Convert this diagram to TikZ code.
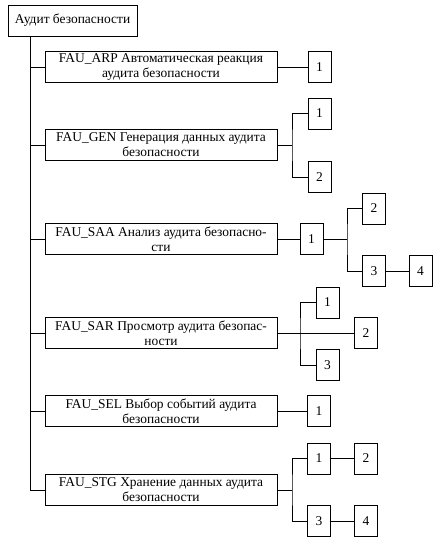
\documentclass[tikz,border=0pt]{standalone}
\usepackage{fontspec}
\setmainfont{Liberation Serif}
\begin{document}
\begin{tikzpicture}[x=1bp,y=-1bp,
  every node/.style={font=\fontsize{13.5}{15}\selectfont, inner sep=0pt, outer sep=0pt},
  rootbox/.style={draw, line width=0.8bp, minimum width=129bp, minimum height=31bp},
  mainbox/.style={draw, line width=0.8bp, minimum width=232bp, minimum height=31bp, align=center},
  numbox/.style={draw, line width=0.8bp, minimum width=23bp, minimum height=31bp},
  conn/.style={line width=0.8bp}]
\useasboundingbox (0,0) rectangle (442,545);
\node[rootbox] (root) at (72.5,20.5) {Аудит безопасности};
\node[mainbox] (arp) at (161,67) {FAU\_ARP Автоматическая реакция\\аудита безопасности};
\node[mainbox] (gen) at (161,145) {FAU\_GEN Генерация данных аудита\\безопасности};
\node[mainbox] (saa) at (161,239) {FAU\_SAA Анализ аудита безопасно-\\сти};
\node[mainbox] (sar) at (161,333) {FAU\_SAR Просмотр аудита безопас-\\ности};
\node[mainbox] (sel) at (161,411) {FAU\_SEL Выбор событий аудита\\безопасности};
\node[mainbox] (stg) at (161,490) {FAU\_STG Хранение данных аудита\\безопасности};
% numbered boxes
\node[numbox] (arp1) at (319.5,67) {1};
\node[numbox] (gen1) at (319.5,113.5) {1};
\node[numbox] (gen2) at (319.5,177) {2};
\node[numbox] (saa1) at (311.5,239) {1};
\node[numbox] (saa2) at (374,208.5) {2};
\node[numbox] (saa3) at (374,271) {3};
\node[numbox] (saa4) at (420.5,271) {4};
\node[numbox] (sar1) at (327.5,302.5) {1};
\node[numbox] (sar2) at (366,333) {2};
\node[numbox] (sar3) at (327.5,365) {3};
\node[numbox] (sel1) at (319,411) {1};
\node[numbox] (stg1) at (319,458.5) {1};
\node[numbox] (stg2) at (366,458.5) {2};
\node[numbox] (stg3) at (319,521) {3};
\node[numbox] (stg4) at (366,521) {4};
% trunk
\coordinate (t) at (30,0);
\draw[conn] (root.south -| t) -- (stg.west -| t) -- (stg.west);
\foreach \b in {arp,gen,saa,sar,sel} \draw[conn] (\b.west -| t) -- (\b.west);
% ARP
\draw[conn] (arp.east) -- (arp1.west);
% GEN
\coordinate (gs) at (292,145);
\draw[conn] (gen.east) -- (gs);
\draw[conn] (gen1.west) -| (gs) |- (gen2.west);
% SAA
\draw[conn] (saa.east) -- (saa1.west);
\coordinate (ss) at (347,239);
\draw[conn] (saa1.east) -- (ss);
\draw[conn] (saa2.west) -| (ss) |- (saa3.west);
\draw[conn] (saa3.east) -- (saa4.west);
% SAR
\coordinate (rs) at (300,333);
\draw[conn] (sar.east) -- (sar2.west);
\draw[conn] (sar1.west) -| (rs) |- (sar3.west);
% SEL
\draw[conn] (sel.east) -- (sel1.west);
% STG
\coordinate (ts) at (292,490);
\draw[conn] (stg.east) -- (ts);
\draw[conn] (stg1.west) -| (ts) |- (stg3.west);
\draw[conn] (stg1.east) -- (stg2.west);
\draw[conn] (stg3.east) -- (stg4.west);
\end{tikzpicture}
\end{document}
